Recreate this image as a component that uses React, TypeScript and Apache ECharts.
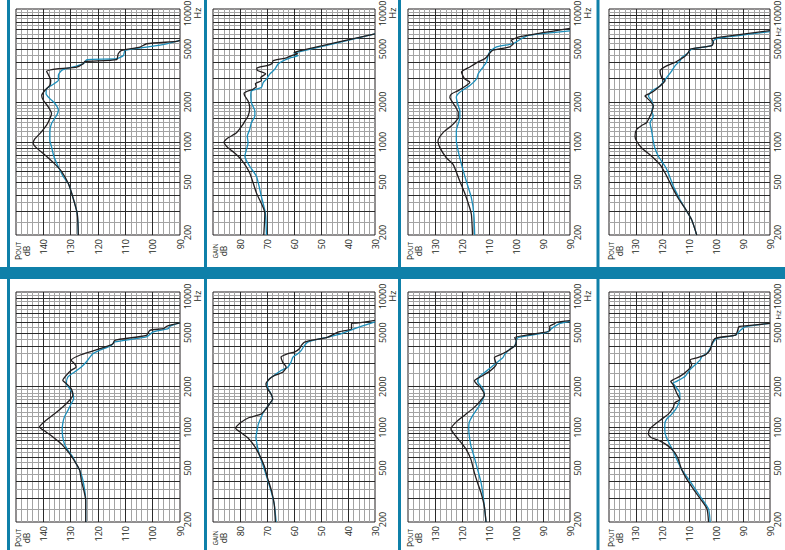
import React, { useEffect, useRef } from 'react';
import * as echarts from 'echarts';

// ---------- axis ticks ----------
const FREQ_LABELS = [200, 500, 1000, 2000, 5000, 10000];
const FREQ_MAJOR_LINES = [300, 400, 500, 600, 700, 800, 900, 1000, 1500, 2000, 3000, 4000, 5000, 6000, 7000, 8000, 9000];
const FREQ_MINOR_LINES = [250, 350, 450, 550, 650, 750, 850, 950, 1100, 1200, 1300, 1400, 1600, 1700, 1800, 1900, 2500, 3500, 4500, 5500, 6500, 7500, 8500, 9500];

// tick labels from the top of the scale (left) to the bottom (right), 10 dB apart
const POUT150_TICKS = ['', '140', '130', '120', '110', '100', '90'];
const POUT140_TICKS = ['', '130', '120', '110', '100', '90', '90'];
const GAIN_TICKS = ['', '80', '70', '60', '50', '40', '30'];

// ---------- curves: [frequency Hz, level dB] ----------
const P1_BLACK = [[200,127.2],[290,127.6],[410,129.6],[490,130.9],[600,133.3],[700,136.3],[800,139.4],[900,142.4],[975,143.7],[1050,143.2],[1160,141.2],[1340,138.8],[1500,137.6],[1640,137.0],[1840,138.2],[2060,140.0],[2240,140.6],[2450,139.4],[2670,137.6],[2900,137.3],[3220,138.2],[3400,138.8],[3560,134.5],[3660,127.8],[3880,125.4],[4040,124.8],[4160,113.2],[4610,112.6],[4880,111.3],[5170,104.6],[5480,102.2],[5700,91.2],[5800,90]];
const P1_TEAL = [[200,127.2],[290,127.6],[410,129.6],[490,130.9],[548,132.7],[651,134.5],[774,136.1],[919,137.0],[1032,137.6],[1192,137.6],[1376,137.0],[1589,135.1],[1732,134.5],[1943,135.7],[2119,137.6],[2309,139.0],[2518,138.8],[2667,137.0],[2907,134.5],[3170,134.5],[3456,133.3],[3557,131.5],[3877,125.4],[4155,124.1],[4228,113.2],[4477,110.7],[4882,110.1],[5170,102.2],[5476,94.9],[5800,90]];

const P2_BLACK = [[200,71.2],[292,70.8],[413,73.9],[585,76.4],[738,79.5],[828,82.0],[903,84.4],[997,85.9],[1075,84.4],[1173,81.3],[1356,78.9],[1436,78.2],[1567,77.0],[1812,76.4],[2036,77.0],[2220,78.2],[2326,78.5],[2494,75.2],[2600,74.0],[2750,74.3],[2900,72.0],[3050,72.3],[3250,70.5],[3450,73.5],[3600,73.8],[3750,70.0],[3900,68.1],[4100,67.7],[4300,62.8],[4500,60.3],[4600,58.6],[4720,60.0],[4850,58.0],[6490,30]];
const P2_TEAL = [[200,70.2],[292,70.6],[390,72.1],[552,73.9],[657,76.4],[782,78.2],[878,77.6],[986,77.0],[1107,77.3],[1243,76.4],[1396,75.8],[1567,74.5],[1710,74.5],[1978,75.8],[2220,76.0],[2422,75.8],[2566,72.1],[2800,71.4],[2968,70.2],[3236,69.0],[3530,67.1],[3854,65.9],[4082,64.0],[4324,60.9],[4451,58.5],[4583,60.0],[4718,59.0],[6490,30]];

const P3_BLACK = [[200,116.1],[284,116.5],[318,117.1],[414,119.0],[507,120.8],[679,123.3],[762,125.8],[907,128.2],[1019,128.9],[1178,127.0],[1324,123.9],[1531,121.4],[1671,121.4],[1877,122.7],[2170,124.5],[2300,123.9],[2437,121.4],[2660,118.4],[2817,117.1],[2985,119.0],[3356,120.2],[3664,117.1],[4000,114.0],[4237,111.5],[4488,110.3],[4674,109.7],[4900,108.5],[5190,102.3],[5500,101.0],[5830,101.7],[6000,100.5],[6200,98.5],[7140,80]];
const P3_TEAL = [[200,115.3],[284,115.6],[379,116.5],[507,118.4],[679,120.2],[855,121.4],[1019,122.1],[1213,122.1],[1531,120.8],[1720,120.8],[1877,121.4],[2170,122.1],[2367,120.8],[2660,117.1],[2985,114.6],[3260,114.0],[3664,112.2],[4000,110.9],[4488,110.3],[4754,109.7],[5190,107.2],[5497,101.0],[6000,97.9],[6366,94.8],[6860,80]];

const P4_BLACK = [[200,107.3],[260,109.2],[318,111.7],[378,114.2],[464,116.6],[585,119.1],[676,121.0],[782,124.1],[903,127.8],[1014,129.7],[1107,130.3],[1243,129.7],[1333,127.8],[1396,126.0],[1567,124.7],[1660,124.1],[1866,123.5],[2036,124.7],[2156,126.0],[2220,126.6],[2354,124.1],[2642,121.0],[2884,119.1],[3054,120.4],[3430,121.0],[3740,118.5],[3966,115.4],[4250,112.9],[4404,111.7],[4718,110.4],[5000,109.8],[5300,101.7],[5615,101.1],[5950,101.7],[6124,99.3],[6880,80]];
const P4_TEAL = [[200,107.3],[260,109.2],[318,111.7],[368,113.5],[464,116.0],[585,117.9],[657,119.1],[782,121.6],[903,122.9],[1014,123.5],[1207,124.1],[1396,124.7],[1567,123.5],[1710,124.1],[1866,123.5],[2036,124.1],[2220,125.3],[2422,124.1],[2642,121.0],[3054,118.5],[3430,116.6],[3740,115.4],[4082,113.5],[4324,112.9],[4583,111.1],[4718,110.4],[5000,109.2],[5300,101.7],[5780,101.1],[6025,99.3],[6760,80]];

const P5_BLACK = [[200,124.5],[289,124.5],[406,126.1],[482,126.7],[540,128.0],[639,130.4],[758,133.5],[850,136.5],[925,139.0],[1007,141.4],[1128,139.0],[1262,135.9],[1415,132.9],[1585,130.4],[1726,129.2],[1933,129.8],[2104,131.6],[2227,132.9],[2425,131.6],[2641,129.8],[2795,128.0],[2958,128.6],[3131,129.8],[3411,126.7],[3670,121.8],[4038,115.7],[4155,114.5],[4398,113.9],[4790,102.3],[5214,101.0],[5365,96.1],[5580,94.9],[5904,90]];
const P5_TEAL = [[200,124.5],[289,124.5],[406,125.5],[482,126.7],[525,127.7],[604,129.2],[677,131.0],[758,132.3],[850,132.9],[951,133.1],[1066,132.9],[1194,132.3],[1336,131.0],[1498,129.8],[1630,128.9],[1775,129.2],[1933,130.4],[2104,131.6],[2357,131.0],[2566,128.6],[2795,126.1],[3043,124.3],[3509,121.8],[3712,119.4],[4038,115.1],[4275,113.9],[4655,102.3],[5070,99.8],[5365,94.3],[5580,93.7],[5904,90]];

const P6_BLACK = [[200,66.9],[269,67.3],[338,68.3],[424,69.8],[518,71.0],[632,72.9],[729,74.7],[841,77.2],[916,79.7],[986,81.6],[1086,79.7],[1183,76.6],[1253,72.2],[1365,70.4],[1487,69.1],[1620,67.9],[1765,68.5],[1922,69.8],[2094,70.4],[2280,69.1],[2414,67.3],[2556,64.2],[2784,62.9],[3034,64.2],[3306,64.8],[3500,62.3],[3600,59.8],[3810,58.0],[4030,57.3],[4268,56.1],[4648,47.4],[5062,43.7],[5360,38.7],[5843,38.7],[5906,36.2],[6182,30]];
const P6_TEAL = [[200,66.6],[269,67.3],[338,68.5],[424,70.0],[533,71.6],[632,72.9],[750,73.7],[841,74.1],[942,73.7],[1056,73.2],[1183,72.2],[1327,71.0],[1487,69.1],[1620,67.9],[1765,68.5],[1922,69.5],[2094,70.0],[2280,69.1],[2484,66.6],[2629,64.8],[2784,62.3],[3034,61.1],[3306,60.4],[3500,58.6],[3704,57.3],[4030,56.1],[4268,54.9],[4648,47.4],[4922,42.4],[5360,37.5],[6010,30]];

const P7_BLACK = [[200,111.1],[259,111.7],[326,112.9],[388,114.2],[461,115.4],[580,116.7],[690,118.5],[774,120.4],[893,122.9],[974,124.1],[1093,122.2],[1226,119.1],[1376,116.0],[1544,113.5],[1732,111.7],[1944,112.9],[2118,114.8],[2206,115.4],[2377,112.9],[2592,109.8],[2908,107.3],[3264,108.0],[3458,105.5],[3620,103.6],[3990,100.5],[4350,99.9],[4609,100.5],[5172,87.5],[5600,87.5],[5800,86.0],[5970,85.0],[6146,80]];
const P7_TEAL = [[200,111.1],[259,111.7],[326,112.3],[388,112.9],[488,114.2],[597,115.4],[730,116.7],[868,117.3],[974,117.5],[1093,117.3],[1226,116.0],[1458,113.5],[1732,111.7],[1944,112.3],[2180,114.2],[2377,113.5],[2592,111.1],[2908,108.0],[3264,104.9],[3458,104.2],[3767,102.4],[3990,100.5],[4350,99.9],[4609,99.3],[5024,88.7],[5476,86.2],[5868,83.7],[6076,80]];

const P8_BLACK = [[200,102.9],[250,103.5],[297,106.0],[351,108.6],[416,111.1],[492,113.0],[583,114.2],[652,115.5],[730,118.0],[795,121.1],[841,124.3],[889,125.3],[967,124.9],[1052,123.0],[1146,120.5],[1247,118.0],[1396,116.1],[1518,115.5],[1606,113.6],[1797,114.8],[2069,116.1],[2189,117.0],[2250,116.1],[2380,113.6],[2668,110.4],[2899,109.2],[3152,109.8],[3241,107.9],[3430,104.1],[3733,102.3],[4180,101.6],[4550,100.4],[4810,92.8],[5090,92.2],[5540,91.6],[5600,90.3],[5860,80]];
const P8_TEAL = [[200,102.3],[250,102.9],[297,105.4],[351,107.9],[416,110.4],[492,113.0],[583,114.8],[671,116.1],[751,117.4],[841,118.6],[940,119.2],[1052,119.2],[1146,118.6],[1247,116.7],[1396,114.8],[1651,113.6],[1797,113.6],[1956,114.8],[2127,116.1],[2189,114.8],[2380,111.7],[2668,109.8],[2899,107.9],[3152,106.0],[3333,105.4],[3530,103.5],[3840,102.3],[4300,101.0],[4550,99.7],[4810,92.8],[5234,90.9],[5540,89.0],[5860,80]];

// ---------- panels ----------
const PANELS = [
  { kind: 'pout', top: 150, ticks: POUT150_TICKS, black: P1_BLACK, teal: P1_TEAL },
  { kind: 'gain', top: 90, ticks: GAIN_TICKS, black: P2_BLACK, teal: P2_TEAL },
  { kind: 'pout', top: 140, ticks: POUT140_TICKS, black: P3_BLACK, teal: P3_TEAL },
  { kind: 'pout', top: 140, ticks: POUT140_TICKS, black: P4_BLACK, teal: P4_TEAL },
  { kind: 'pout', top: 150, ticks: POUT150_TICKS, black: P5_BLACK, teal: P5_TEAL },
  { kind: 'gain', top: 90, ticks: GAIN_TICKS, black: P6_BLACK, teal: P6_TEAL },
  { kind: 'pout', top: 140, ticks: POUT140_TICKS, black: P7_BLACK, teal: P7_TEAL },
  { kind: 'pout', top: 140, ticks: POUT140_TICKS, black: P8_BLACK, teal: P8_TEAL },
];

// ---------- layout & style ----------
const W = 785;
const H = 550;
const BOXES = [
  { left: 16, top: 9, width: 164, height: 226 },
  { left: 213, top: 9, width: 162, height: 226 },
  { left: 408, top: 9, width: 162, height: 226 },
  { left: 609, top: 9, width: 161, height: 226 },
  { left: 16, top: 292, width: 164, height: 230 },
  { left: 213, top: 292, width: 162, height: 230 },
  { left: 408, top: 292, width: 162, height: 230 },
  { left: 609, top: 292, width: 161, height: 230 },
];
const SEP_X = [7, 204, 398, 596.5];
const FONT = "'Open Sans', 'Noto Sans', sans-serif";
const INK = '#231f20';
const TEAL = '#1d8fbb';
const BAR = '#0f80a9';
const GRID_DARK = { color: '#2a2a2a', width: 1, type: 'solid' as const };
const GRID_GRAY = { color: '#a3a3a3', width: 1, type: 'solid' as const };
const DB_SPAN = 60;

function buildOption() {
  const grid: any[] = [];
  const xAxis: any[] = [];
  const yAxis: any[] = [];
  const series: any[] = [];
  const graphic: any[] = [];

  PANELS.forEach((p, i) => {
    const b = BOXES[i];
    const max = p.top;
    const min = p.top - DB_SPAN;
    grid.push({
      left: b.left, top: b.top, width: b.width, height: b.height,
      show: true, borderColor: INK, borderWidth: 1, backgroundColor: '#fff',
      containLabel: false, outerBoundsMode: 'none',
    });
    xAxis.push({
      type: 'value', gridIndex: i, inverse: true, min, max, interval: 10,
      axisLine: { show: false }, axisTick: { show: false }, splitLine: { show: false },
      axisLabel: {
        rotate: 90, margin: 4, fontSize: 9, color: INK, fontFamily: FONT,
        showMinLabel: true, showMaxLabel: true, hideOverlap: false,
        formatter: (v: number) => p.ticks[Math.round((max - v) / 10)] ?? '',
      },
    });
    yAxis.push({
      type: 'log', logBase: 10, gridIndex: i, position: 'right', min: 200, max: 10000,
      axisLine: { show: false }, axisTick: { show: false, customValues: FREQ_LABELS },
      splitLine: { show: false },
      axisLabel: {
        rotate: 90, margin: 3, fontSize: 9, color: INK, fontFamily: FONT,
        customValues: FREQ_LABELS, showMinLabel: true, showMaxLabel: true, hideOverlap: false,
        formatter: (v: number) => {
          const r = Math.round(v);
          if (r >= 10000) return '{hi|' + r + '}';
          if (r <= 200) return '{lo|' + r + '}';
          return '{n|' + r + '}';
        },
        rich: {
          hi: { fontSize: 9, fontFamily: FONT, color: INK, padding: [0, 9, 0, 0] },
          lo: { fontSize: 9, fontFamily: FONT, color: INK, padding: [0, 0, 0, 5] },
          n: { fontSize: 9, fontFamily: FONT, color: INK },
        },
      },
    });

    const minorDb: number[] = [];
    const majorDb: number[] = [];
    for (let v = min + 2; v < max; v += 2) {
      if (v % 10 === 0) majorDb.push(v); else minorDb.push(v);
    }
    series.push({
      type: 'line', xAxisIndex: i, yAxisIndex: i, data: [], silent: true, z: 1,
      markLine: {
        silent: true, symbol: ['none', 'none'], label: { show: false }, emphasis: { disabled: true },
        data: [
          ...minorDb.map((v) => ({ xAxis: v, lineStyle: GRID_GRAY })),
          ...FREQ_MINOR_LINES.map((f) => ({ yAxis: f, lineStyle: GRID_GRAY })),
          ...majorDb.map((v) => ({ xAxis: v, lineStyle: GRID_DARK })),
          ...FREQ_MAJOR_LINES.map((f) => ({ yAxis: f, lineStyle: GRID_DARK })),
        ],
      },
    });
    const curve = (pts: number[][], color: string, z: number) => ({
      type: 'line', xAxisIndex: i, yAxisIndex: i, silent: true, z,
      data: pts.map(([f, d]) => [d, f]),
      showSymbol: false, symbol: 'none', smooth: 0.2,
      lineStyle: { color, width: 1.3 },
    });
    series.push(curve(p.teal, TEAL, 5));
    series.push(curve(p.black, INK, 6));

    const isGain = p.kind === 'gain';
    graphic.push({
      type: 'text', x: b.left + 6.5, y: b.top + b.height + 16, rotation: Math.PI / 2, silent: true,
      style: {
        text: isGain ? '{s|GAIN}\n{b|dB}' : '{b|P}{s|OUT}\n{b|dB}',
        align: 'center', verticalAlign: 'middle',
        rich: {
          b: { fontSize: 8.5, fontFamily: FONT, fill: INK, lineHeight: 8 },
          s: { fontSize: 6.3, fontFamily: FONT, fill: INK, lineHeight: 8 },
        },
      },
    });
    // "Hz" sits right of the 10000 label; at the page edge it goes in the gap just below that label
    let hzX = b.left + b.width + 17;
    let hzY = b.top + 4;
    let hzSize = 9;
    if (hzX + 6 > W) {
      hzX = W - 8;
      hzY = b.top + 23;
      hzSize = 8;
    }
    graphic.push({
      type: 'text', x: hzX, y: hzY, rotation: Math.PI / 2, silent: true,
      style: { text: 'Hz', fontSize: hzSize, fontFamily: FONT, fill: INK, align: 'center', verticalAlign: 'middle' },
    });
  });

  graphic.push({ type: 'rect', silent: true, shape: { x: 0, y: 267, width: W, height: 12 }, style: { fill: BAR } });
  SEP_X.forEach((x) => {
    graphic.push({ type: 'rect', silent: true, shape: { x, y: 0, width: 3, height: H }, style: { fill: BAR } });
  });

  return { animation: false, backgroundColor: '#fff', grid, xAxis, yAxis, series, graphic };
}

export default function App() {
  const ref = useRef<HTMLDivElement>(null);
  useEffect(() => {
    if (!ref.current) return;
    const chart = echarts.init(ref.current, null, { renderer: 'svg' });
    chart.setOption(buildOption() as any);
    return () => chart.dispose();
  }, []);
  return (
    <div
      ref={ref}
      style={{ position: 'fixed', left: 0, top: 0, width: W, height: H, background: '#fff' }}
    />
  );
}
